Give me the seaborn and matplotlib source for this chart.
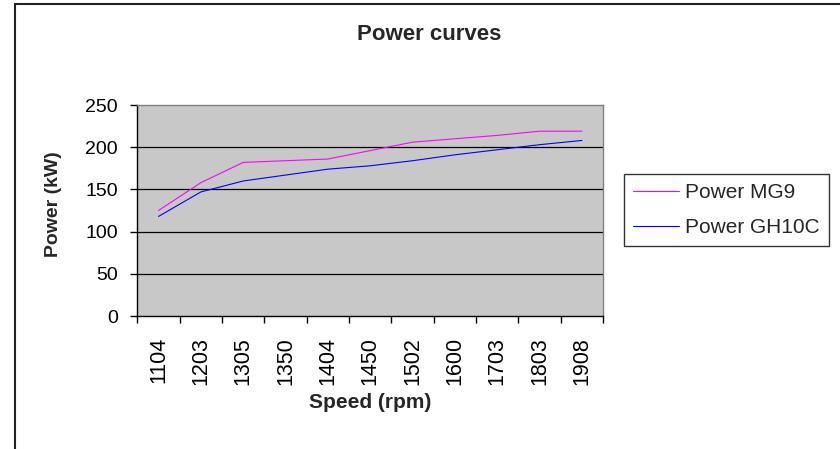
import matplotlib
matplotlib.use("Agg")
import matplotlib.pyplot as plt
from matplotlib.lines import Line2D
import pandas as pd
import seaborn as sns

# data
speeds = ["1104", "1203", "1305", "1350", "1404", "1450", "1502", "1600", "1703", "1803", "1908"]
power_mg9 = [125, 158, 182, 184, 186, 196, 206, 210, 214, 219, 219]
power_gh10c = [118, 147, 160, 167, 174, 178, 184, 191, 197, 203, 208]

df = pd.concat([
    pd.DataFrame({"speed": speeds, "power": power_mg9, "series": "Power MG9"}),
    pd.DataFrame({"speed": speeds, "power": power_gh10c, "series": "Power GH10C"}),
])

sns.set_theme(style="white")
plt.rcParams["font.family"] = ["Liberation Sans", "DejaVu Sans"]

fig = plt.figure(figsize=(8.4, 4.49), dpi=100)
ax = fig.add_axes([0.1635, 0.2962, 0.5545, 0.4699])
ax.set_facecolor("#C8C8C8")

sns.lineplot(data=df, x="speed", y="power", hue="series",
             palette={"Power MG9": "#FF00FF", "Power GH10C": "#0000FF"},
             linewidth=0.8, ax=ax, sort=False)

# axes look
ax.set_xlim(-0.5, len(speeds) - 0.5)
ax.set_ylim(0, 250)
ax.set_yticks([0, 50, 100, 150, 200, 250])
ax.set_xticks(range(len(speeds)))
ax.set_xticklabels(speeds, rotation=90)
ax.set_xticks([i - 0.5 for i in range(len(speeds) + 1)], minor=True)
ax.tick_params(axis="x", which="major", length=0, pad=15, labelsize=15.5, colors="black")
ax.tick_params(axis="x", which="minor", length=5, width=1, color="black", direction="out", bottom=True)
ax.tick_params(axis="y", length=5, width=1, color="black", direction="out", left=True,
               labelsize=14, pad=9, colors="black")
for y in [50, 100, 150, 200]:
    ax.axhline(y, color="black", linewidth=0.9, zorder=1)
for side in ["top", "right"]:
    ax.spines[side].set_color("#808080")
    ax.spines[side].set_linewidth(1)
for side in ["left", "bottom"]:
    ax.spines[side].set_color("black")
    ax.spines[side].set_linewidth(1)

ax.set_xlabel("Speed (rpm)", fontsize=15, fontweight="bold", va="center")
ax.xaxis.set_label_coords(0.5, -0.41)
ax.set_ylabel("Power (kW)", fontsize=14, fontweight="bold", va="center")
ax.yaxis.set_label_coords(-0.179, 0.53)
fig.text(0.511, 0.923, "Power curves", ha="center", va="center", fontsize=16, fontweight="bold")

# legend
handles, labels = ax.get_legend_handles_labels()
leg = ax.legend(handles, labels, loc="upper left", bbox_to_anchor=(624 / 840, 1 - 174 / 449),
                bbox_transform=fig.transFigure, frameon=True, fancybox=False,
                fontsize=15, handlelength=2.2, handletextpad=0.3, borderpad=0.45,
                labelspacing=0.75, borderaxespad=0)
leg.get_frame().set_edgecolor("black")
leg.get_frame().set_linewidth(1)

# outer chart border (only top and left visible)
fig.add_artist(Line2D([15 / 840, 15 / 840], [0, 1 - 4 / 449], transform=fig.transFigure,
                      color="#222222", linewidth=1.5))
fig.add_artist(Line2D([15 / 840, 1], [1 - 4 / 449, 1 - 4 / 449], transform=fig.transFigure,
                      color="#222222", linewidth=1.5))

plt.savefig("out.png", dpi=100)
